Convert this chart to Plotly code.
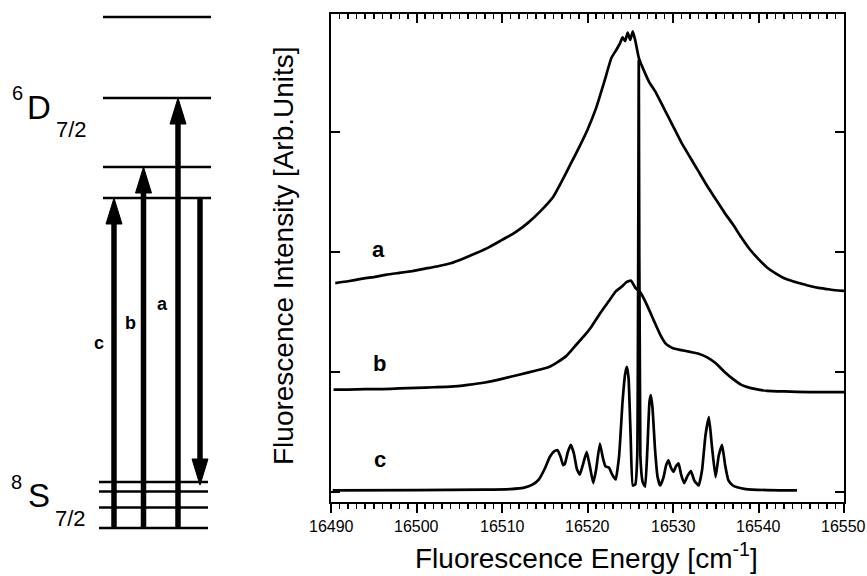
import plotly.graph_objects as go

W, H = 867, 576
FONT = "Liberation Sans, Arial, sans-serif"

# ---------------- spectra (x: cm-1, y: arb. units, offset) ----------------
a_x = [16490.5, 16492, 16493.5, 16495, 16496.5, 16498, 16499.5, 16501, 16502.5, 16504,
       16505.5, 16507, 16508.5, 16510, 16511.5, 16513, 16514.5, 16516, 16517, 16518,
       16519, 16520, 16521, 16522, 16522.8, 16523.4, 16523.8, 16524.1, 16524.4, 16524.7,
       16525.0, 16525.3, 16525.6, 16526.0, 16526.5, 16527.2, 16528, 16529, 16530, 16531,
       16532, 16533, 16534, 16535, 16536, 16537, 16538, 16539, 16540, 16541,
       16542, 16543, 16544, 16545, 16546, 16547, 16548, 16549, 16550]
a_y = [1.74, 1.755, 1.775, 1.79, 1.81, 1.825, 1.84, 1.86, 1.88, 1.905,
       1.945, 1.99, 2.04, 2.10, 2.16, 2.24, 2.34, 2.46, 2.59, 2.73,
       2.87, 3.02, 3.20, 3.43, 3.62, 3.69, 3.74, 3.79, 3.76, 3.83,
       3.77, 3.84, 3.76, 3.62, 3.53, 3.42, 3.33, 3.19, 3.05, 2.91,
       2.79, 2.67, 2.55, 2.44, 2.33, 2.23, 2.12, 2.02, 1.94, 1.87,
       1.82, 1.78, 1.755, 1.735, 1.715, 1.70, 1.69, 1.68, 1.675]

b_x = [16490.3, 16492, 16494, 16496, 16498, 16500, 16502, 16504, 16506, 16508,
       16510, 16512, 16514, 16515.5, 16516.5, 16517.5, 16518.5, 16519.5, 16520.5, 16521.5,
       16522.5, 16523.3, 16524, 16524.6, 16525.1, 16525.6, 16526.2, 16527, 16527.8, 16528.5,
       16529.2, 16530, 16531, 16532, 16533, 16534, 16535, 16536, 16537, 16538,
       16539, 16540, 16541, 16543, 16546, 16550]
b_y = [0.85, 0.85, 0.855, 0.855, 0.86, 0.865, 0.87, 0.875, 0.89, 0.91,
       0.94, 0.975, 1.01, 1.04, 1.08, 1.13, 1.21, 1.29, 1.38, 1.49,
       1.59, 1.67, 1.71, 1.75, 1.76, 1.70, 1.66, 1.55, 1.42, 1.31,
       1.23, 1.195, 1.18, 1.165, 1.15, 1.12, 1.07, 1.00, 0.94, 0.89,
       0.865, 0.85, 0.84, 0.835, 0.83, 0.83]

c_x = [16490.2, 16500, 16508, 16511, 16512.5, 16513.5, 16514.3, 16515.0, 16515.6, 16516.1,
       16516.5, 16516.85, 16517.15, 16517.35, 16517.7, 16518.05, 16518.4, 16518.75, 16519.1, 16519.45,
       16519.9, 16520.25, 16520.67, 16521.0, 16521.45, 16521.8, 16522.1, 16522.5, 16522.9, 16523.3,
       16523.7, 16524.1, 16524.4, 16524.6, 16524.8, 16525.05, 16525.3, 16525.6, 16525.82, 16526.0,
       16526.18, 16526.45, 16526.74, 16527.0, 16527.25, 16527.41, 16527.6, 16527.9, 16528.2, 16528.5,
       16528.9, 16529.2, 16529.47, 16529.75, 16530.06, 16530.35, 16530.65, 16530.95, 16531.3, 16531.7,
       16532.1, 16532.5, 16533.0, 16533.4, 16533.8, 16534.2, 16534.55, 16534.98, 16535.35, 16535.74,
       16536.1, 16536.5, 16537.0, 16537.5, 16538.5, 16541, 16544.5]
c_y = [0.01, 0.012, 0.015, 0.02, 0.03, 0.055, 0.10, 0.19, 0.29, 0.335,
       0.345, 0.29, 0.22, 0.23, 0.33, 0.39, 0.32, 0.19, 0.14, 0.22,
       0.33, 0.22, 0.07, 0.18, 0.40, 0.28, 0.21, 0.20, 0.14, 0.10,
       0.30, 0.75, 0.98, 1.04, 0.95, 0.45, 0.05, 0.06, 0.30, 3.6,
       0.30, 0.08, 0.04, 0.35, 0.75, 0.805, 0.70, 0.35, 0.12, 0.05,
       0.12, 0.22, 0.26, 0.20, 0.165, 0.21, 0.235, 0.14, 0.07, 0.13,
       0.17, 0.09, 0.05, 0.18, 0.47, 0.62, 0.38, 0.12, 0.30, 0.39,
       0.22, 0.09, 0.05, 0.035, 0.02, 0.012, 0.01]

spec_labels = ["a", "b", "c"]
spec_label_x = [16495.5, 16495.7, 16495.7]
spec_label_y = [2.02, 1.07, 0.27]

x_ticks = [16490, 16500, 16510, 16520, 16530, 16540, 16550]
x_tick_text = ["16490", "16500", "16510", "16520", "16530", "16540", "16550"]
y_ticks = [0, 1, 2, 3]

# ---------------- energy level scheme (arbitrary energy units) ----------------
S_levels = [0, 20.5, 36.5, 46]
D_levels = [330, 361, 430, 511]
S_span = [99, 208]
D_span = [103, 211]
exc_labels = ["c", "b", "a"]
exc_pos = [114, 143.5, 178]
exc_top = [330, 361, 430]
exc_label_pos = [99, 130, 162]
exc_label_E = [185, 205, 224]
emis_pos = 200
emis_from = 330
emis_to = 43

fig = go.Figure()

for xs, ys in [(a_x, a_y), (b_x, b_y), (c_x, c_y)]:
    fig.add_trace(go.Scatter(x=xs, y=ys, mode="lines",
                             line=dict(color="black", width=2.7, shape="spline", smoothing=0.4),
                             hoverinfo="skip", showlegend=False))
fig.add_trace(go.Scatter(x=[x_ticks[0], x_ticks[-1]], y=[0, 0], xaxis="x2", yaxis="y",
                         mode="lines", line=dict(width=0), opacity=0,
                         hoverinfo="skip", showlegend=False))

for E in D_levels:
    fig.add_trace(go.Scatter(x=D_span, y=[E, E], xaxis="x3", yaxis="y3", mode="lines",
                             line=dict(color="black", width=2.5), hoverinfo="skip", showlegend=False))
for E in S_levels:
    fig.add_trace(go.Scatter(x=S_span, y=[E, E], xaxis="x3", yaxis="y3", mode="lines",
                             line=dict(color="black", width=2.5), hoverinfo="skip", showlegend=False))

HL, HW = 26, 8  # arrow-head length / half-width (style)


def arrow(x, e0, e1):
    d = 1 if e1 > e0 else -1
    base = e1 - d * HL
    fig.add_trace(go.Scatter(x=[x, x], y=[e0, base + d * 2], xaxis="x3", yaxis="y3", mode="lines",
                             line=dict(color="black", width=5.5), hoverinfo="skip", showlegend=False))
    fig.add_trace(go.Scatter(x=[x - HW, x, x + HW, x - HW], y=[base, e1, base, base],
                             xaxis="x3", yaxis="y3", mode="lines", fill="toself",
                             fillcolor="black", line=dict(color="black", width=1),
                             hoverinfo="skip", showlegend=False))


for x, top in zip(exc_pos, exc_top):
    arrow(x, S_levels[0], top)
arrow(emis_pos, emis_from, emis_to)

ann = []


def txt(text, x, y, xref, yref, size, bold=False, angle=0, xshift=0):
    f = dict(family=FONT, size=size, color="black")
    if bold:
        f["weight"] = "bold"
    ann.append(dict(x=x, y=y, xref=xref, yref=yref, text=text, showarrow=False,
                    xanchor="center", yanchor="middle", textangle=angle, xshift=xshift, font=f))


for t, x, E in zip(exc_labels, exc_label_pos, exc_label_E):
    txt(t, x, E, "x3", "y3", 18, bold=True)
term_parts = [("6", 17, 435, 20), ("D", 39, 421, 33), ("7/2", 71.5, 399, 22),
              ("8", 16, 46, 20), ("S", 38.5, 33, 33), ("7/2", 70.5, 10, 22)]
for t, x, E, s in term_parts:
    txt(t, x, E, "x3", "y3", s)
for t, x, y in zip(spec_labels, spec_label_x, spec_label_y):
    txt(t, x, y, "x", "y", 22, bold=True)
for i, (v, t) in enumerate(zip(x_ticks, x_tick_text)):
    txt(t, v, 1 - 526 / H, "x", "paper", 16, xshift=(-1 if i == len(x_ticks) - 1 else 0))
txt("Fluorescence Intensity [Arb.Units]", 283 / W, 1 - 256 / H, "paper", "paper", 28, angle=-90)
txt("Fluorescence Energy [cm<sup>-1</sup>]", 586 / W, 1 - 556 / H, "paper", "paper", 28)

xdom = [331 / W, 844 / W]
ydom = [1 - 502 / H, 1 - 14 / H]
xr = [16490, 16550]
yr = [-10.5 / 119.8, 477.5 / 119.8]

fig.update_layout(
    width=W, height=H, autosize=False,
    margin=dict(l=0, r=0, t=0, b=0, pad=0, autoexpand=False),
    paper_bgcolor="white", plot_bgcolor="white",
    showlegend=False, annotations=ann, hovermode=False,
    xaxis=dict(domain=xdom, range=xr, anchor="y", showgrid=False, zeroline=False, automargin=False,
               showline=True, linecolor="black", linewidth=2, showticklabels=False,
               ticks="outside", tickvals=x_ticks, ticklen=9, tickwidth=2, tickcolor="black",
               minor=dict(dtick=1, ticks="outside", ticklen=5, tickwidth=1.5, tickcolor="black")),
    xaxis2=dict(domain=xdom, range=xr, overlaying="x", side="top", anchor="y", matches="x",
                automargin=False,
                showgrid=False, zeroline=False, showline=True, linecolor="black", linewidth=2,
                ticks="inside", tickvals=x_ticks, ticklen=9, tickwidth=2, tickcolor="black",
                showticklabels=False,
                minor=dict(dtick=1, ticks="inside", ticklen=5, tickwidth=1.5, tickcolor="black")),
    yaxis=dict(domain=ydom, range=yr, anchor="x", showgrid=False, zeroline=False, automargin=False,
               showline=True, linecolor="black", linewidth=2, mirror="ticks",
               ticks="inside", tickvals=y_ticks, ticklen=9, tickwidth=2, tickcolor="black",
               showticklabels=False),
    xaxis3=dict(domain=[0, 260 / W], range=[0, 260], anchor="y3", visible=False, automargin=False),
    yaxis3=dict(domain=[0, 1], range=[-48, 528], anchor="x3", visible=False, automargin=False),
)

fig.write_html("out.html", config={"displayModeBar": False, "staticPlot": True},
               post_script="document.body.style.margin='0';document.body.style.overflow='hidden';")
